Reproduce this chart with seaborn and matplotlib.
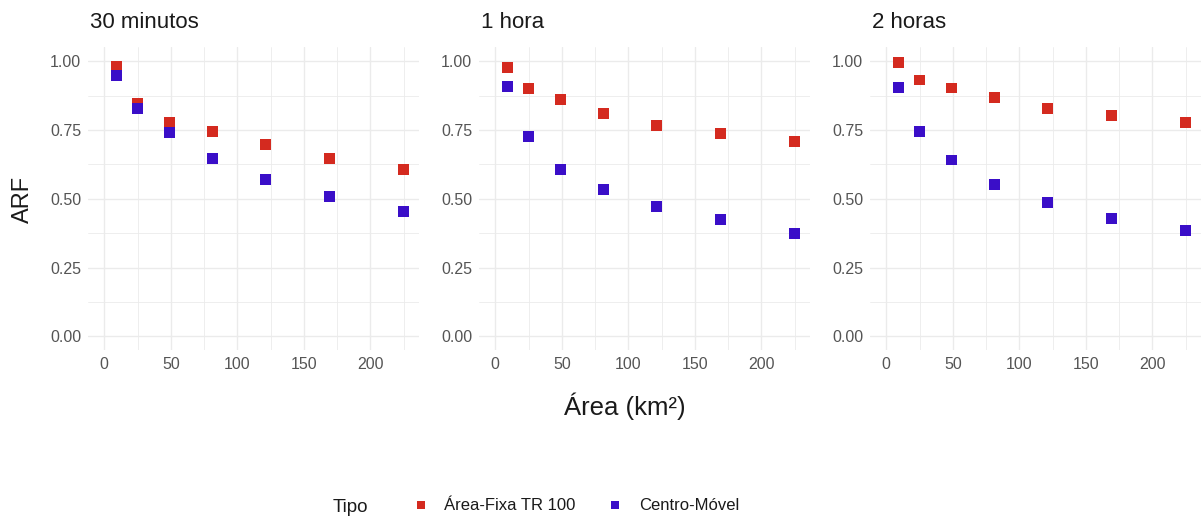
import matplotlib
matplotlib.use("Agg")
import matplotlib.pyplot as plt
from matplotlib.lines import Line2D
import seaborn as sns
import pandas as pd

# ---- data ----
areas = [9, 25, 49, 81, 121, 169, 225]
panels = ["30 minutos", "1 hora", "2 horas"]
tipos = ["Área-Fixa TR 100", "Centro-Móvel"]

arf_fixa_30 = [0.983, 0.845, 0.778, 0.743, 0.696, 0.646, 0.606]
arf_movel_30 = [0.947, 0.828, 0.742, 0.646, 0.570, 0.509, 0.454]
arf_fixa_1h = [0.977, 0.901, 0.860, 0.809, 0.766, 0.738, 0.708]
arf_movel_1h = [0.908, 0.728, 0.606, 0.535, 0.473, 0.424, 0.374]
arf_fixa_2h = [0.995, 0.932, 0.903, 0.868, 0.827, 0.804, 0.778]
arf_movel_2h = [0.904, 0.743, 0.641, 0.551, 0.486, 0.429, 0.383]

x_ticks = [0, 50, 100, 150, 200]
y_ticks = [0.00, 0.25, 0.50, 0.75, 1.00]
y_tick_labels = ["0.00", "0.25", "0.50", "0.75", "1.00"]

series = {
    "30 minutos": (arf_fixa_30, arf_movel_30),
    "1 hora": (arf_fixa_1h, arf_movel_1h),
    "2 horas": (arf_fixa_2h, arf_movel_2h),
}
rows = []
for p in panels:
    fixa, movel = series[p]
    for a, v in zip(areas, fixa):
        rows.append({"painel": p, "Tipo": tipos[0], "Area": a, "ARF": v})
    for a, v in zip(areas, movel):
        rows.append({"painel": p, "Tipo": tipos[1], "Area": a, "ARF": v})
df = pd.DataFrame(rows)

palette = {tipos[0]: "#D42A1F", tipos[1]: "#3A0EC8"}

sns.set_theme(style="white")
plt.rcParams["font.family"] = ["Liberation Sans", "DejaVu Sans"]

W, H = 1202, 523
fig = plt.figure(figsize=(W / 100, H / 100), dpi=100)

lefts = [88, 479, 870]
top_px, bot_px = 47, 350
width_px = 331

xmin, xmax = -12.2, 236.5
grid_col = "#EBEBEB"

for i, p in enumerate(panels):
    ax = fig.add_axes([lefts[i] / W, (H - bot_px) / H, width_px / W, (bot_px - top_px) / H])
    sub = df[df["painel"] == p]
    sns.scatterplot(data=sub, x="Area", y="ARF", hue="Tipo", palette=palette,
                    hue_order=tipos, marker="s", s=62, linewidth=0, ax=ax,
                    legend=False, zorder=3)
    ax.set_xlim(xmin, xmax)
    ax.set_ylim(-0.05, 1.052)
    ax.set_xticks(x_ticks)
    ax.set_xticklabels([str(t) for t in x_ticks])
    ax.set_yticks(y_ticks)
    ax.set_yticklabels(y_tick_labels)
    ax.set_xticks([25, 75, 125, 175, 225], minor=True)
    ax.set_yticks([0.125, 0.375, 0.625, 0.875], minor=True)
    ax.grid(True, which="major", color=grid_col, linewidth=1.0, zorder=0)
    ax.grid(True, which="minor", color=grid_col, linewidth=0.6, zorder=0)
    ax.tick_params(which="both", length=0)
    ax.tick_params(axis="both", labelsize=11.5, labelcolor="#555555", pad=5)
    for s in ax.spines.values():
        s.set_visible(False)
    ax.set_xlabel("")
    ax.set_ylabel("")
    ax.set_axisbelow(True)
    fig.text((lefts[i] + 2) / W, 1 - 23 / H, p, fontsize=16, color="#1A1A1A",
             ha="left", va="center")

fig.text(23 / W, 1 - 199 / H, "ARF", rotation=90, fontsize=17, color="#1A1A1A",
         ha="center", va="center")
fig.text(625 / W, 1 - 406 / H, "Área (km²)", fontsize=18.5, color="#1A1A1A",
         ha="center", va="center")

# legend
fig.text(350 / W, 1 - 507 / H, "Tipo", fontsize=13.5, color="#1A1A1A",
         ha="center", va="center")
handles = [Line2D([0], [0], marker="s", linestyle="", markersize=6,
                  markerfacecolor=palette[t], markeredgewidth=0) for t in tipos]
fig.legend(handles, tipos, loc="center left", bbox_to_anchor=(404 / W, 1 - 506 / H),
           ncol=2, frameon=False, fontsize=12, handletextpad=0.9, columnspacing=1.9,
           handlelength=1.0, borderpad=0, labelcolor="#1A1A1A")

fig.savefig("out.png", dpi=100, facecolor="white")
